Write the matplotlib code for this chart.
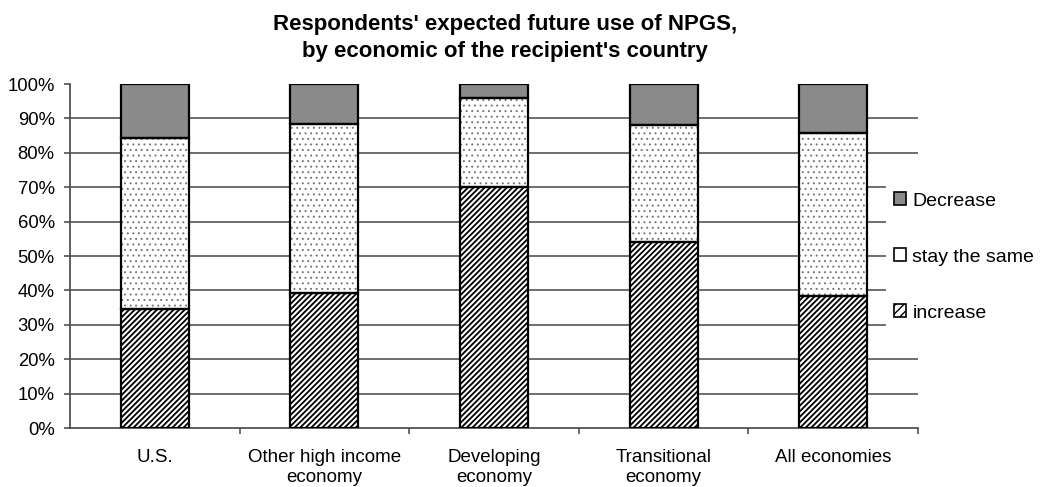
import matplotlib
matplotlib.use("Agg")
import matplotlib.pyplot as plt
from matplotlib.patches import Patch
from matplotlib.ticker import FixedLocator, FuncFormatter

plt.rcParams["font.family"] = ["Liberation Sans", "DejaVu Sans"]

# Share of respondents (%) by expected change in NPGS use
categories = ["U.S.", "Other high income\neconomy", "Developing\neconomy",
              "Transitional\neconomy", "All economies"]
increase = [34.6, 39.2, 70.1, 54.0, 38.5]
stay_same = [49.6, 49.1, 25.7, 34.1, 47.2]
decrease = [15.8, 11.7, 4.2, 11.9, 14.3]
y_ticks = [0, 10, 20, 30, 40, 50, 60, 70, 80, 90, 100]

fig = plt.figure(figsize=(10.4, 4.87), dpi=100)
ax = fig.add_axes([0.0673, 0.1211, 0.8154, 0.7064])

x = list(range(len(categories)))
width = 0.4
bottom_stay = increase
bottom_dec = [a + b for a, b in zip(increase, stay_same)]

# horizontal gridlines (no line at 0% and 100%)
for v in y_ticks[1:-1]:
    ax.axhline(v, color="#555555", lw=1.2, zorder=0)

# stacked segments: fills and textures
with plt.rc_context({"hatch.linewidth": 1.3}):
    ax.bar(x, increase, width, color="white", edgecolor="black", lw=0,
           hatch="//////", zorder=2)
with plt.rc_context({"hatch.linewidth": 0.7}):
    ax.bar(x, stay_same, width, bottom=bottom_stay, color="white",
           edgecolor="#777777", lw=0, hatch="...", zorder=2)
ax.bar(x, decrease, width, bottom=bottom_dec, color="#8a8a8a", lw=0, zorder=2)

# segment outlines
for vals, bots in ((increase, None), (stay_same, bottom_stay), (decrease, bottom_dec)):
    ax.bar(x, vals, width, bottom=bots, fill=False, edgecolor="black",
           lw=1.6, zorder=3)

ax.set_xlim(-0.5, len(categories) - 0.5)
ax.set_ylim(0, 100)

ax.yaxis.set_major_locator(FixedLocator(y_ticks))
ax.yaxis.set_major_formatter(FuncFormatter(lambda v, p: f"{v:.0f}%"))
ax.tick_params(axis="y", length=4, width=1.1, color="#444444", pad=7,
               labelsize=13.3)

ax.set_xticks(x)
ax.set_xticklabels(categories, fontsize=13.5, linespacing=1.25)
ax.set_xticks([i + 0.5 for i in x], minor=True)
ax.tick_params(axis="x", which="major", length=0, pad=15)
ax.tick_params(axis="x", which="minor", length=4, width=1.1, color="#444444")

for s in ("top", "right"):
    ax.spines[s].set_visible(False)
for s in ("left", "bottom"):
    ax.spines[s].set_color("#444444")
    ax.spines[s].set_linewidth(1.2)

fig.text(0.4856, 0.922,
         "Respondents' expected future use of NPGS,\nby economic of the recipient's country",
         ha="center", va="center", fontsize=16, fontweight="bold",
         linespacing=1.4)

handles = [
    Patch(facecolor="#8a8a8a", edgecolor="black", lw=1.2, label="Decrease"),
    Patch(facecolor="white", edgecolor="black", lw=1.2, label="stay the same"),
    Patch(facecolor="white", edgecolor="black", lw=1.2, hatch="////", label="increase"),
]
leg = fig.legend(handles=handles, loc="center left",
                 bbox_to_anchor=(0.852, 0.4723), borderaxespad=0,
                 borderpad=0.4, fontsize=14, handlelength=0.62,
                 handleheight=0.62, handletextpad=0.33, labelspacing=2.0,
                 frameon=True, facecolor="white", edgecolor="none",
                 framealpha=1, fancybox=False)

fig.savefig("out.png", dpi=100)
